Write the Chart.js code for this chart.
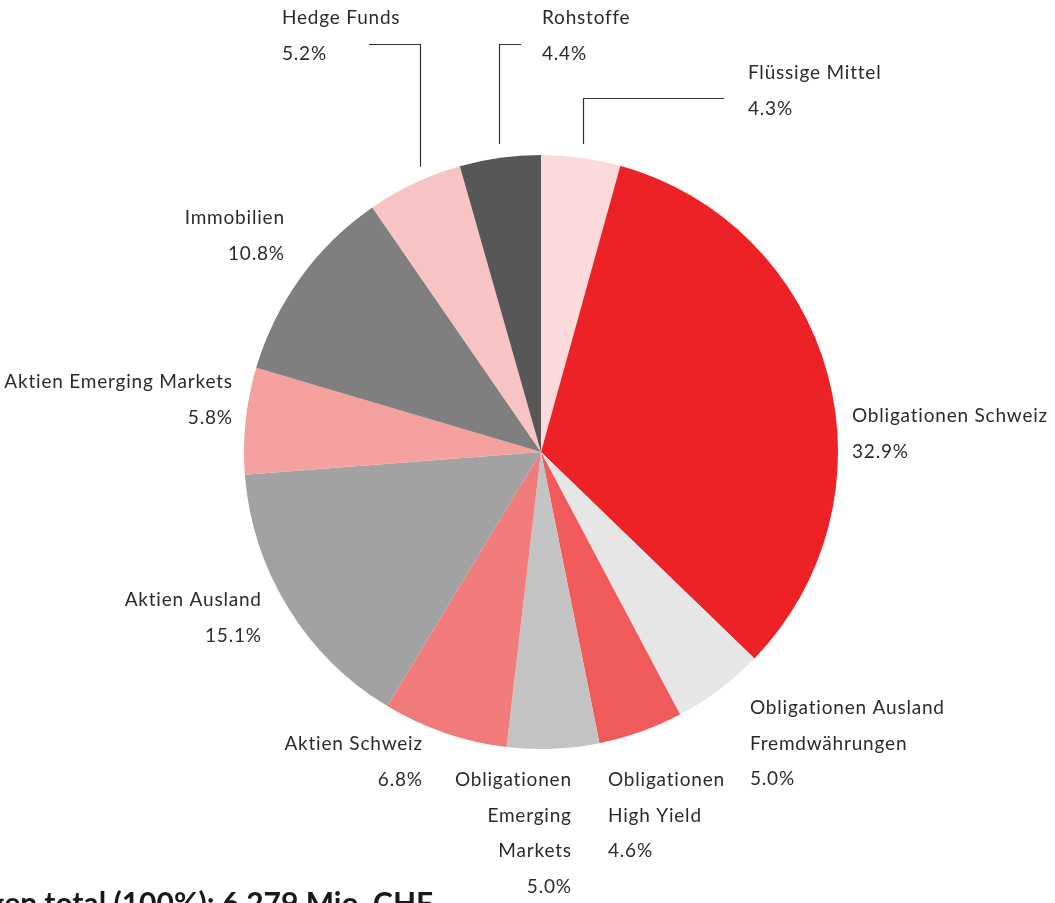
<!DOCTYPE html>
<html>
<head>
<meta charset="utf-8">
<script src="https://cdn.jsdelivr.net/npm/chart.js@4/dist/chart.umd.min.js"></script>
<style>
  html, body { margin: 0; padding: 0; background: #fff; }
  #wrap { width: 1055px; height: 903px; position: relative; overflow: hidden; }
</style>
</head>
<body>
<div id="wrap"><canvas id="pieChart" width="1055" height="903"></canvas></div>
<script>
// Anlagekategorien (im Uhrzeigersinn ab 12 Uhr)
const labels = [
    ['Flüssige Mittel'],
    ['Obligationen Schweiz'],
    ['Obligationen Ausland', 'Fremdwährungen'],
    ['Obligationen', 'High Yield'],
    ['Obligationen', 'Emerging', 'Markets'],
    ['Aktien Schweiz'],
    ['Aktien Ausland'],
    ['Aktien Emerging Markets'],
    ['Immobilien'],
    ['Hedge Funds'],
    ['Rohstoffe']
];
const shares = [4.3, 32.9, 5.0, 4.6, 5.0, 6.8, 15.1, 5.8, 10.8, 5.2, 4.4];
const colors = ['#fadada', '#ec2227', '#e6e6e6', '#f15a5a', '#c3c3c3', '#f17b7b',
                '#a2a2a2', '#f4a09f', '#7f7f7f', '#f8c3c3', '#575757'];
const totalText = 'Vermögen total (100%): 6,279 Mio. CHF';

// Position der Beschriftungen: x, y (Mitte erste Zeile), Ausrichtung, Leitlinie (x Ende horizontal, y, x vertikal)
const labelPos = [
    {x: 748, y: 73, align: 'left', line: [724, 98, 583]},
    {x: 852, y: 416, align: 'left'},
    {x: 750, y: 708, align: 'left'},
    {x: 608, y: 780, align: 'left'},
    {x: 571, y: 780, align: 'right'},
    {x: 422, y: 744, align: 'right'},
    {x: 261, y: 600, align: 'right'},
    {x: 232, y: 382, align: 'right'},
    {x: 284, y: 218, align: 'right'},
    {x: 282, y: 18, align: 'left', line: [369, 44, 420]},
    {x: 542, y: 18, align: 'left', line: [521, 44, 499]}
];
const lineGap = 35.5;

const labelPlugin = {
    id: 'pieLabels',
    afterDraw(chart) {
        const ctx = chart.ctx;
        const arc = chart.getDatasetMeta(0).data[0];
        const cx = arc.x, cy = arc.y, r = arc.outerRadius;
        ctx.save();
        ctx.font = '19px Lato';
        ctx.letterSpacing = '0.8px';
        ctx.fillStyle = '#2b2b2b';
        ctx.textBaseline = 'middle';
        labels.forEach((lines, i) => {
            const p = labelPos[i];
            ctx.textAlign = p.align;
            const all = lines.concat([shares[i].toFixed(1) + '%']);
            // bei rechtsbündig den letzten Buchstabenabstand ausgleichen
            const dx = p.align === 'right' ? 0.8 : 0;
            all.forEach((t, k) => ctx.fillText(t, p.x + dx, p.y + k * lineGap));
            if (p.line) {
                const [x0, y0, x1] = p.line;
                const yEnd = cy - Math.sqrt(r * r - (x1 - cx) * (x1 - cx)) - 14;
                ctx.strokeStyle = '#333';
                ctx.lineWidth = 1.2;
                ctx.beginPath();
                ctx.moveTo(x0, y0 + 0.5);
                ctx.lineTo(x1 + 0.5, y0 + 0.5);
                ctx.lineTo(x1 + 0.5, yEnd);
                ctx.stroke();
            }
        });
        ctx.letterSpacing = '0px';
        ctx.font = 'bold 30px Lato';
        ctx.fillStyle = '#1a1a1a';
        ctx.textAlign = 'right';
        ctx.textBaseline = 'alphabetic';
        ctx.fillText(totalText, 433, 914);
        ctx.restore();
    }
};

const ctxPie = document.getElementById('pieChart').getContext('2d');
new Chart(ctxPie, {
    type: 'pie',
    data: {
        labels: labels.map(l => l.join(' ')),
        datasets: [{
            data: shares,
            backgroundColor: colors,
            borderWidth: 0
        }]
    },
    options: {
        responsive: false,
        animation: false,
        layout: {padding: {left: 244, right: 217, top: 155, bottom: 154}},
        plugins: {
            legend: {display: false},
            tooltip: {enabled: false}
        }
    },
    plugins: [labelPlugin]
});
</script>
</body>
</html>
